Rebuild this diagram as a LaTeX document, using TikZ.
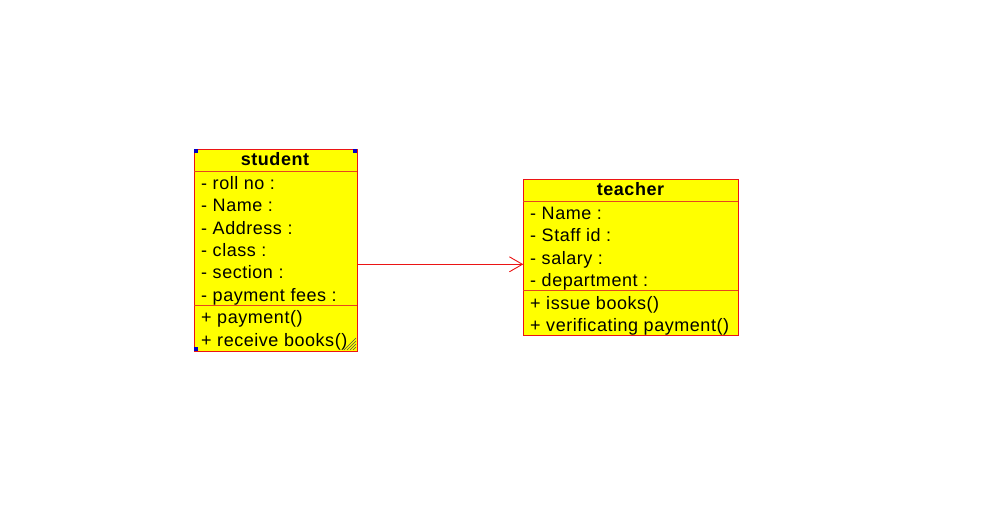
\documentclass[tikz,border=0pt]{standalone}
\usepackage{fontspec}
\setmainfont{Liberation Sans}[LetterSpace=3]
\usetikzlibrary{arrows.meta}
\definecolor{umlred}{RGB}{235,20,20}
\definecolor{umlsep}{RGB}{230,70,30}
\definecolor{umlfill}{RGB}{255,255,0}
\definecolor{handle}{RGB}{0,0,200}
\begin{document}
\begin{tikzpicture}[x=1pt,y=-1pt,
  classbox/.style={draw=umlred, fill=umlfill, line width=1pt, inner sep=0pt, anchor=north west},
  sepline/.style={draw=umlsep, line width=0.9pt},
  member/.style={anchor=base west, inner sep=0pt, font=\fontsize{18}{20}\selectfont},
  title/.style={anchor=base, inner sep=0pt, font=\fontsize{18}{20}\selectfont\bfseries},
  assoc/.style={draw=umlred, line width=0.9pt, -{Straight Barb[length=13pt,width=15pt,line width=0.9pt]}},
  handlebox/.style={fill=handle, draw=none},
  grip/.style={draw=black!70, line width=0.6pt}
]
\useasboundingbox[fill=white] (0,0) rectangle (983,514);

% student class
\node[classbox, minimum width=162.5pt, minimum height=202pt] (student) at (194,148.5) {};
\draw[sepline] (194,171) -- (356.5,171);
\draw[sepline] (194,305) -- (356.5,305);
\node[title] (sname) at (275,165.7) {student};
\node[member] (s1) at (201,189.5) {- roll no :};
\node[member] (s2) at (201,211.8) {- Name :};
\node[member] (s3) at (201,234.1) {- Address :};
\node[member] (s4) at (201,256.4) {- class :};
\node[member] (s5) at (201,278.7) {- section :};
\node[member] (s6) at (201,301.0) {- payment fees :};
\node[member] (s7) at (201,323.5) {+ payment()};
\node[member] (s8) at (201,346.0) {+ receive books()};

% selection handles and resize grip
\fill[handlebox] (194,148.5) rectangle (198,152.5);
\fill[handlebox] (352.5,148.5) rectangle (356.5,152.5);
\fill[handlebox] (194,346.5) rectangle (198,350.5);
\draw[grip] (344,350) -- (356,338);
\draw[grip] (347,350) -- (356,341);
\draw[grip] (350,350) -- (356,344);
\draw[grip] (353,350) -- (356,347);

% teacher class
\node[classbox, minimum width=214.5pt, minimum height=156.5pt] (teacher) at (523.3,178.5) {};
\draw[sepline] (523.3,201) -- (737.8,201);
\draw[sepline] (523.3,290.7) -- (737.8,290.7);
\node[title] (tname) at (630.5,195.7) {teacher};
\node[member] (t1) at (530,219.5) {- Name :};
\node[member] (t2) at (530,241.9) {- Staff id :};
\node[member] (t3) at (530,264.3) {- salary :};
\node[member] (t4) at (530,286.7) {- department :};
\node[member] (t5) at (530,309.2) {+ issue books()};
\node[member] (t6) at (530,331.6) {+ verificating payment()};

% association
\coordinate (ay) at (0,264.3);
\draw[assoc] (student.east |- ay) -- (teacher.west |- ay);
\end{tikzpicture}
\end{document}
